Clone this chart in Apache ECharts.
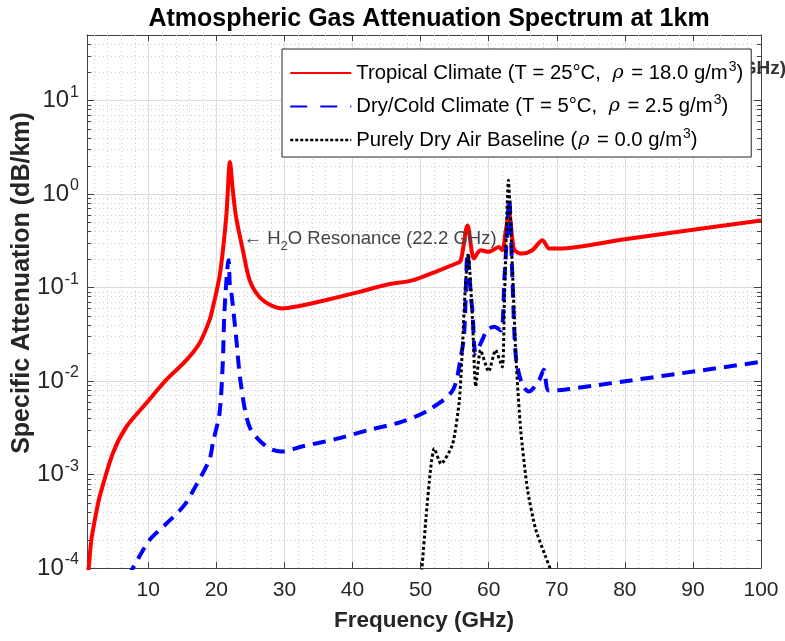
<!DOCTYPE html>
<html>
<head>
<meta charset="utf-8">
<script src="https://cdn.jsdelivr.net/npm/echarts@6/dist/echarts.min.js"></script>
<style>
html, body { margin: 0; padding: 0; background: #fff; }
#chart { width: 785px; height: 641px; }
</style>
</head>
<body>
<div id="chart"></div>
<script>
// frequency (GHz) / specific attenuation (dB/km)
var tropicalFreq = [1.0, 1.25, 1.64, 2.38, 2.86, 4.8, 6.8, 9.7, 12.6, 15.6, 17.5, 19.0, 19.5, 20.0, 20.5, 21.0, 21.5, 22.0,
    22.4, 22.9, 23.9, 24.9, 26.3, 28.0, 29.7, 32, 36, 41, 45, 48.8, 52, 55.2, 55.9, 56.9, 57.85, 58.8, 60.0, 61.5,
    62.0, 62.5, 63.0, 63.5, 63.8, 64.9, 66.4, 67.9, 68.9, 70.3, 80, 90, 100];
var tropicalAtt = [6.3e-5, 1.0e-4, 2.0e-4, 4.0e-4, 5.8e-4, 1.69e-3, 3.24e-3, 5.77e-3, 0.0102, 0.0167, 0.0251, 0.0447, 0.0617, 0.089, 0.135, 0.263, 0.63, 2.19,
    1.12, 0.565, 0.249, 0.119, 0.0794, 0.0646, 0.0596, 0.063, 0.073, 0.0895, 0.107, 0.119, 0.145, 0.18, 0.195, 0.46, 0.204, 0.25, 0.24, 0.27,
    0.25, 0.4, 0.62, 0.32, 0.25, 0.23, 0.25, 0.32, 0.26, 0.26, 0.327, 0.413, 0.52];

var dryColdFreq = [7.0, 7.74, 10.2, 12.5, 15.3, 17.0, 19.0, 19.5, 20.46, 20.94, 21.2, 21.8, 22.0, 22.2, 22.9, 23.6, 24.9, 27.3,
    29.5, 32.7, 37.6, 42.5, 47.3, 51.2, 54.7, 55.9, 56.4, 56.9, 57.4, 57.6, 58.1, 58.8, 59.8, 60.8, 61.8, 62.3,
    62.8, 63.0, 63.5, 64.0, 64.9, 65.9, 67.4, 68.1, 68.85, 71.3, 100];
var dryColdAtt = [8e-5, 1e-4, 2e-4, 2.9e-4, 4.7e-4, 7.6e-4, 1.45e-3, 2.2e-3, 4.5e-3, 0.0155, 0.0575, 0.195, 0.1, 0.089, 0.0295, 9.3e-3, 3.2e-3, 2.0e-3,
    1.76e-3, 2.0e-3, 2.4e-3, 3.0e-3, 3.67e-3, 4.9e-3, 7.9e-3, 0.018, 0.032, 0.23, 0.079, 0.0575, 0.0197, 0.025, 0.035, 0.038, 0.0347, 0.119,
    0.525, 0.89, 0.119, 0.018, 9.3e-3, 7.7e-3, 0.0102, 0.0132, 7.9e-3, 8.1e-3, 0.016];

var dryAirFreq = [50.0, 50.2, 50.8, 51.5, 52.0, 53.0, 54.7, 55.7, 56.2, 56.6, 57.0, 57.6, 58.1, 58.8, 60.0, 61.0, 62.0, 62.3,
    62.9, 63.5, 64.0, 64.7, 65.7, 66.9, 68.4, 69.0, 70.0];
var dryAirAtt = [8e-5, 1e-4, 3.5e-4, 1.2e-3, 1.9e-3, 1.3e-3, 2.1e-3, 6.3e-3, 0.0275, 0.11, 0.23, 0.049, 8.7e-3, 0.0214, 0.0126, 0.0214, 0.0141, 0.068,
    1.4, 0.151, 0.018, 3.0e-3, 6.9e-4, 2.6e-4, 1.3e-4, 1.0e-4, 6.3e-5];

var seriesNames = [
    'Tropical Climate (T = 25°C, ρ = 18.0 g/m3)',
    'Dry/Cold Climate (T = 5°C, ρ = 2.5 g/m3)',
    'Purely Dry Air Baseline (ρ = 0.0 g/m3)'
];
var xTicks = [10, 20, 30, 40, 50, 60, 70, 80, 90, 100];
var xMinor = [2, 4, 6, 8, 12, 14, 16, 18, 22, 24, 26, 28, 32, 34, 36, 38, 42, 44, 46, 48, 52, 54, 56, 58,
    62, 64, 66, 68, 72, 74, 76, 78, 82, 84, 86, 88, 92, 94, 96, 98];
var yTickExp = [-4, -3, -2, -1, 0, 1];
var yMinor = [];
[-4, -3, -2, -1, 0, 1].forEach(function (e) {
    for (var m = 2; m <= 9; m++) {
        var v = m * Math.pow(10, e);
        if (v < 50) yMinor.push(v);
    }
});

var FONT = '"Liberation Sans", Arial, Helvetica, sans-serif';
var AXIS = '#404040';

function pairs(xs, ys) {
    return xs.map(function (x, i) { return [x, ys[i]]; });
}

function legendText(name) {
    // italic rho and superscript 3
    var m = name.match(/^(.*)ρ(.*)m3\)$/);
    var rho = /\s$/.test(m[1]) ? '{i|ρ}' : '{j|ρ}';
    return '{t|' + m[1] + '}' + rho + '{t|' + m[2] + 'm}{s|3}{t|)}';
}

function minorYItem(params, api) {
    var p = api.coord([1, api.value(1)]);
    var cs = params.coordSys;
    var y = Math.round(p[1]) + 0.5;
    return {
        type: 'group',
        children: [
            { type: 'line', shape: { x1: cs.x, y1: y, x2: cs.x + cs.width, y2: y },
              style: { stroke: '#cfcfcf', lineWidth: 1, lineDash: [1, 3] } },
            { type: 'line', shape: { x1: cs.x, y1: y, x2: cs.x + 4, y2: y },
              style: { stroke: AXIS, lineWidth: 1 } },
            { type: 'line', shape: { x1: cs.x + cs.width - 4, y1: y, x2: cs.x + cs.width, y2: y },
              style: { stroke: AXIS, lineWidth: 1 } }
        ]
    };
}

function minorXItem(params, api) {
    var p = api.coord([api.value(0), 1]);
    var cs = params.coordSys;
    var x = Math.round(p[0]) + 0.5;
    return {
        type: 'line',
        shape: { x1: x, y1: cs.y, x2: x, y2: cs.y + cs.height },
        style: { stroke: '#cfcfcf', lineWidth: 1, lineDash: [1, 3] }
    };
}

var chart = echarts.init(document.getElementById('chart'));

var option = {
    animation: false,
    backgroundColor: '#fff',
    title: {
        text: 'Atmospheric Gas Attenuation Spectrum at 1km',
        left: 424,
        textAlign: 'center',
        top: 2,
        textStyle: { fontFamily: FONT, fontSize: 25, fontWeight: 'bold', color: '#000' }
    },
    grid: { left: 87, right: 24, top: 35, bottom: 73 },
    legend: {
        orient: 'vertical',
        left: 282,
        top: 49,
        z: 10,
        padding: [11, 8, 7, 7],
        itemGap: 10.5,
        itemWidth: 61,
        itemHeight: 14,
        itemStyle: { opacity: 0 },
        backgroundColor: '#fff',
        borderColor: '#262626',
        borderWidth: 1,
        borderRadius: 0,
        data: [
            { name: seriesNames[0] },
            { name: seriesNames[1], lineStyle: { type: [17, 13] } },
            { name: seriesNames[2], lineStyle: { type: [3, 2], width: 2.5 } }
        ],
        formatter: legendText,
        textStyle: {
            fontFamily: FONT, fontSize: 20, color: '#000',
            rich: {
                t: { fontFamily: FONT, fontSize: 20.3, color: '#000' },
                i: { fontFamily: '"DejaVu Serif", serif', fontStyle: 'italic', fontSize: 19, color: '#000', padding: [0, 2, 0, 6] },
                j: { fontFamily: '"DejaVu Serif", serif', fontStyle: 'italic', fontSize: 19, color: '#000', padding: [0, 2, 0, 1] },
                s: { fontFamily: FONT, fontSize: 14, color: '#000', padding: [0, 0, 12, 1] }
            }
        }
    },
    xAxis: [{
        type: 'value',
        min: 1,
        max: 100,
        splitNumber: 10,
        position: 'bottom',
        name: 'Frequency (GHz)',
        nameLocation: 'middle',
        nameGap: 41,
        nameTextStyle: { fontFamily: FONT, fontSize: 22.5, fontWeight: 'bold', color: '#262626', verticalAlign: 'top' },
        axisLine: { show: true, lineStyle: { color: AXIS, width: 1 } },
        axisTick: { show: true, inside: true, length: 6, lineStyle: { color: AXIS } },
        axisLabel: {
            margin: 12,
            fontFamily: FONT, fontSize: 21, color: '#262626',
            formatter: function (v) { return xTicks.indexOf(v) >= 0 ? String(v) : ''; }
        },
        splitLine: { show: true, lineStyle: { color: '#dedede', width: 1 } }
    }, {
        type: 'value',
        min: 1,
        max: 100,
        splitNumber: 10,
        position: 'top',
        axisLine: { show: true, lineStyle: { color: AXIS, width: 1 } },
        axisTick: { show: true, inside: true, length: 6, lineStyle: { color: AXIS } },
        axisLabel: { show: false },
        splitLine: { show: false }
    }],
    yAxis: [{
        type: 'log',
        logBase: 10,
        min: 1e-4,
        max: 50,
        position: 'left',
        axisLine: { show: true, lineStyle: { color: AXIS, width: 1 } },
        axisTick: { show: true, inside: true, length: 7, lineStyle: { color: AXIS } },
        axisLabel: {
            margin: 8,
            formatter: function (v) {
                var e = Math.round(Math.log10(v));
                if (Math.abs(Math.log10(v) - e) > 1e-6 || yTickExp.indexOf(e) < 0) return '';
                return '{b|10}{s|' + e + '}';
            },
            rich: {
                b: { fontFamily: FONT, fontSize: 24, color: '#262626' },
                s: { fontFamily: FONT, fontSize: 16, color: '#262626', padding: [0, 0, 16, 1] }
            }
        },
        splitLine: { show: true, lineStyle: { color: '#dedede', width: 1 } }
    }, {
        type: 'log',
        logBase: 10,
        min: 1e-4,
        max: 50,
        position: 'right',
        axisLine: { show: true, lineStyle: { color: AXIS, width: 1 } },
        axisTick: { show: true, inside: true, length: 7, lineStyle: { color: AXIS } },
        axisLabel: { show: false },
        splitLine: { show: false }
    }],
    series: [{
        type: 'custom',
        name: 'xminor',
        silent: true,
        z: 1,
        xAxisIndex: 0, yAxisIndex: 0,
        renderItem: minorXItem,
        data: xMinor.map(function (v) { return [v, 1]; })
    }, {
        type: 'custom',
        name: 'yminor',
        silent: true,
        z: 1,
        xAxisIndex: 0, yAxisIndex: 0,
        renderItem: minorYItem,
        data: yMinor.map(function (v) { return [1, v]; })
    }, {
        type: 'line',
        name: seriesNames[0],
        data: pairs(tropicalFreq, tropicalAtt),
        symbol: 'none',
        showSymbol: false,
        smooth: 0.3,
        clip: true,
        z: 3,
        lineStyle: { color: '#ff0000', width: 4 },
        itemStyle: { color: '#ff0000' }
    }, {
        type: 'line',
        name: seriesNames[1],
        data: pairs(dryColdFreq, dryColdAtt),
        symbol: 'none',
        showSymbol: false,
        smooth: 0.3,
        clip: true,
        z: 4,
        lineStyle: { color: '#0000ff', width: 4, type: [13, 8] },
        itemStyle: { color: '#0000ff' }
    }, {
        type: 'line',
        name: seriesNames[2],
        data: pairs(dryAirFreq, dryAirAtt),
        symbol: 'none',
        showSymbol: false,
        smooth: 0.2,
        clip: true,
        z: 5,
        lineStyle: { color: '#000000', width: 3, type: [3, 2.5] },
        itemStyle: { color: '#000000' }
    }]
};

chart.setOption(option);

// annotations placed through the axes
var h2oAt = chart.convertToPixel({ gridIndex: 0 }, [24.0, 0.327]);
chart.setOption({
    graphic: [{
        type: 'text',
        z: 2,
        x: 786,
        y: 69,
        style: {
            text: '{t|← O}{u|2}{t| Absorption Complex (60 GHz)}',
            align: 'right',
            verticalAlign: 'middle',
            rich: {
                t: { fontFamily: FONT, fontSize: 19, fontWeight: 'bold', fill: '#333' },
                u: { fontFamily: FONT, fontSize: 13, fontWeight: 'bold', fill: '#333', padding: [12, 0, 0, 0] }
            }
        }
    }, {
        type: 'text',
        z: 6,
        x: h2oAt[0],
        y: h2oAt[1],
        style: {
            text: '{t|← H}{u|2}{t|O Resonance (22.2 GHz)}',
            align: 'left',
            verticalAlign: 'middle',
            rich: {
                t: { fontFamily: FONT, fontSize: 18.5, fill: '#444' },
                u: { fontFamily: FONT, fontSize: 13, fill: '#444', padding: [14, 0, 0, 0] }
            }
        }
    }, {
        // y-axis title
        type: 'text',
        x: 22,
        y: 283,
        rotation: Math.PI / 2,
        style: {
            text: 'Specific Attenuation (dB/km)',
            align: 'center',
            verticalAlign: 'middle',
            fontFamily: FONT, fontSize: 25, fontWeight: 'bold', fill: '#262626'
        }
    }]
});
</script>
</body>
</html>
